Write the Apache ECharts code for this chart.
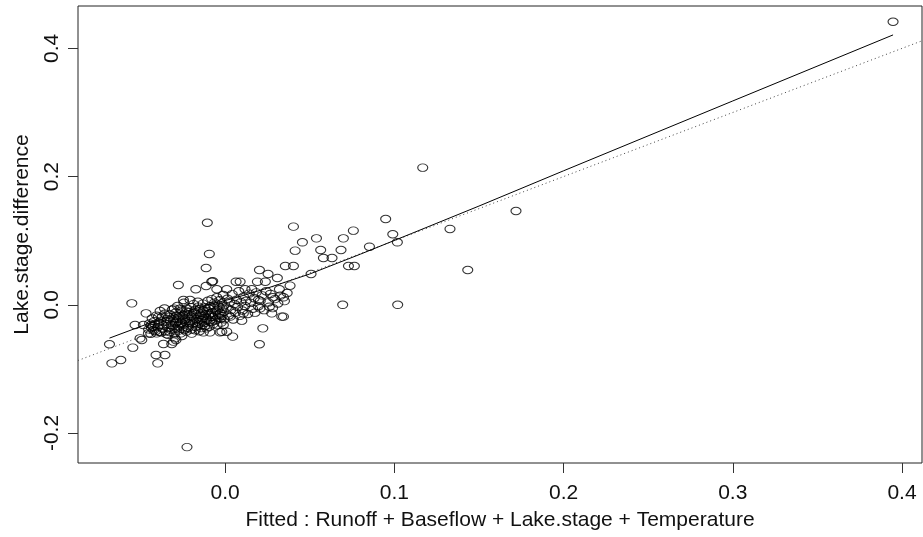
<!DOCTYPE html>
<html>
<head>
<meta charset="utf-8">
<title>Lake.stage.difference vs fitted</title>
<script src="https://cdn.jsdelivr.net/npm/echarts@6/dist/echarts.min.js"></script>
<style>
  html, body { margin: 0; padding: 0; background: #fff; }
  #chart { width: 923px; height: 537px; }
</style>
</head>
<body>
<div id="chart"></div>
<script>
const outliers = [
  [0.3947, 0.4415], [0.1168, 0.2139], [0.1719, 0.1463], [0.1329, 0.1183], [0.1434, 0.0543],
  [0.1020, 0.0000], [0.0695, 0.0000], [-0.0225, -0.2220]
];
const upperArm = [
  [0.0949, 0.1338], [0.0991, 0.1100], [0.1018, 0.0975], [0.0853, 0.0906], [0.0758, 0.1156],
  [0.0699, 0.1037], [0.0540, 0.1037], [0.0685, 0.0855], [0.0565, 0.0855], [0.0457, 0.0975],
  [0.0404, 0.1219], [0.0414, 0.0844], [0.0581, 0.0730], [0.0632, 0.0730], [0.0729, 0.0605],
  [0.0764, 0.0605], [0.0508, 0.0480], [0.0356, 0.0605], [0.0404, 0.0605], [0.0203, 0.0543],
  [0.0254, 0.0480], [0.0309, 0.0418], [0.0191, 0.0360], [0.0238, 0.0360], [0.0384, 0.0298],
  [0.0065, 0.0360], [0.0089, 0.0360], [-0.0073, 0.0367], [-0.0112, 0.0293], [-0.0173, 0.0242],
  [-0.0049, 0.0242], [0.0010, 0.0242], [0.0118, 0.0242], [0.0158, 0.0242], [0.0321, 0.0242],
  [-0.0105, 0.1280], [-0.0093, 0.0793], [-0.0112, 0.0574], [-0.0276, 0.0309], [-0.0246, 0.0075],
  [-0.0207, 0.0075], [-0.0079, 0.0360]
];
const middle = [
  [0.0345, 0.0117], [0.0282, 0.0117], [0.0197, 0.0075], [0.0262, -0.0030], [0.0207, -0.0055],
  [0.0335, -0.0185], [0.0345, -0.0185], [0.0276, -0.0133], [0.0177, -0.0123], [0.0108, -0.0133],
  [0.0030, -0.0185], [0.0099, -0.0248], [-0.0010, -0.0315], [0.0223, -0.0367], [0.0045, -0.0497],
  [0.0203, -0.0616], [-0.0030, -0.0430], [-0.0089, -0.0430], [-0.0128, -0.0430], [0.0010, -0.0420],
  [0.0008, -0.0041], [0.0014, 0.0094], [0.0021, -0.0167], [0.0027, 0.0043], [0.0034, -0.0082],
  [0.0042, 0.0167], [0.0048, -0.0229], [0.0055, 0.0012], [0.0061, -0.0121], [0.0068, 0.0079],
  [0.0074, -0.0034], [0.0081, 0.0211], [0.0087, -0.0172], [0.0094, 0.0041], [0.0102, -0.0089],
  [0.0109, 0.0128], [0.0117, -0.0018], [0.0125, 0.0063], [0.0134, -0.0143], [0.0142, 0.0174],
  [0.0151, 0.0029], [0.0163, -0.0061], [0.0172, 0.0102], [0.0184, 0.0193], [0.0196, -0.0022],
  [0.0208, 0.0061], [0.0219, 0.0147], [0.0231, -0.0084], [0.0243, 0.0212], [0.0256, 0.0037],
  [0.0268, 0.0169], [0.0281, -0.0051], [0.0294, 0.0089], [0.0312, 0.0021], [0.0327, 0.0143],
  [0.0351, 0.0058], [0.0367, 0.0184]
];
const lowerLeft = [
  [-0.0683, -0.0616], [-0.0669, -0.0913], [-0.0616, -0.0861], [-0.0551, 0.0023], [-0.0467, -0.0133],
  [-0.0532, -0.0315], [-0.0483, -0.0315], [-0.0437, -0.0315], [-0.0394, -0.0185], [-0.0502, -0.0523],
  [-0.0545, -0.0669], [-0.0408, -0.0783], [-0.0355, -0.0783], [-0.0398, -0.0913], [-0.0364, -0.0612],
  [-0.0315, -0.0612], [-0.0290, -0.0550], [-0.0388, -0.0420], [-0.0453, -0.0445], [-0.0404, -0.0445],
  [-0.0492, -0.0549], [-0.0305, -0.0575], [-0.0295, -0.0523], [-0.0019, -0.0420]
];
const core = [
  [-0.0452, -0.0383], [-0.0446, -0.0291], [-0.0439, -0.0452], [-0.0431, -0.0214], [-0.0426, -0.0338],
  [-0.0418, -0.0256], [-0.0412, -0.0412], [-0.0405, -0.0168], [-0.0397, -0.0349], [-0.0391, -0.0274],
  [-0.0384, -0.0097], [-0.0377, -0.0431], [-0.0371, -0.0187], [-0.0364, -0.0319], [-0.0358, -0.0058],
  [-0.0352, -0.0412], [-0.0348, -0.0301], [-0.0341, -0.0221], [-0.0337, -0.0468], [-0.0331, -0.0356],
  [-0.0325, -0.0152], [-0.0322, -0.0262], [-0.0318, -0.0391], [-0.0312, -0.0078], [-0.0309, -0.0329],
  [-0.0303, -0.0205], [-0.0299, -0.0447], [-0.0294, -0.0284], [-0.0291, -0.0121], [-0.0286, -0.0369],
  [-0.0281, -0.0019], [-0.0277, -0.0243], [-0.0273, -0.0402], [-0.0268, -0.0172], [-0.0264, -0.0308],
  [-0.0259, -0.0093], [-0.0255, -0.0486], [-0.0251, -0.0226], [-0.0247, -0.0351], [-0.0243, 0.0032],
  [-0.0239, -0.0139], [-0.0234, -0.0272], [-0.0229, -0.0418], [-0.0226, -0.0058], [-0.0221, -0.0196],
  [-0.0217, -0.0329], [-0.0213, -0.0112], [-0.0208, -0.0251], [-0.0204, -0.0037], [-0.0199, -0.0385],
  [-0.0195, -0.0164], [-0.0191, -0.0297], [-0.0186, 0.0011], [-0.0182, -0.0213], [-0.0178, -0.0081],
  [-0.0173, -0.0344], [-0.0169, -0.0148], [-0.0165, -0.0262], [-0.0161, 0.0047], [-0.0156, -0.0189],
  [-0.0152, -0.0413], [-0.0148, -0.0064], [-0.0143, -0.0238], [-0.0139, -0.0121], [-0.0135, -0.0316],
  [-0.0131, 0.0018], [-0.0126, -0.0175], [-0.0122, -0.0283], [-0.0118, -0.0042], [-0.0113, -0.0207],
  [-0.0109, -0.0367], [-0.0105, -0.0098], [-0.0101, 0.0063], [-0.0096, -0.0154], [-0.0092, -0.0259],
  [-0.0088, -0.0023], [-0.0083, -0.0186], [-0.0079, 0.0089], [-0.0075, -0.0121], [-0.0071, -0.0302],
  [-0.0066, -0.0052], [-0.0062, 0.0034], [-0.0058, -0.0167], [-0.0053, -0.0231], [-0.0049, 0.0118],
  [-0.0045, -0.0084], [-0.0041, -0.0012], [-0.0036, -0.0196], [-0.0032, 0.0071], [-0.0028, -0.0135],
  [-0.0023, -0.0277], [-0.0019, 0.0022], [-0.0015, -0.0061], [-0.0011, 0.0153], [-0.0006, -0.0108]
];
const coreDense = [
  [-0.0344, -0.0262], [-0.0333, -0.0189], [-0.0327, -0.0425], [-0.0319, -0.0311], [-0.0306, -0.0247],
  [-0.0297, -0.0376], [-0.0288, -0.0168], [-0.0279, -0.0331], [-0.0271, -0.0216], [-0.0262, -0.0445],
  [-0.0257, -0.0279], [-0.0249, -0.0162], [-0.0241, -0.0391], [-0.0236, -0.0231], [-0.0228, -0.0102],
  [-0.0219, -0.0362], [-0.0211, -0.0287], [-0.0202, -0.0183], [-0.0197, -0.0449], [-0.0189, -0.0247],
  [-0.0184, -0.0121], [-0.0176, -0.0398], [-0.0171, -0.0221], [-0.0163, -0.0329], [-0.0158, -0.0029],
  [-0.0151, -0.0276], [-0.0146, -0.0158], [-0.0141, -0.0364], [-0.0133, -0.0213], [-0.0128, -0.0089],
  [-0.0120, -0.0331], [-0.0116, -0.0148], [-0.0107, -0.0242], [-0.0099, -0.0051], [-0.0094, -0.0342],
  [-0.0086, -0.0129], [-0.0081, -0.0268], [-0.0073, -0.0191], [-0.0068, -0.0009], [-0.0060, -0.0247],
  [-0.0055, -0.0102], [-0.0047, -0.0318], [-0.0039, -0.0158], [-0.0034, -0.0041], [-0.0026, -0.0214],
  [-0.0017, -0.0173], [-0.0009, -0.0024], [-0.0004, -0.0226], [-0.0380, -0.0251], [-0.0368, -0.0372],
  [-0.0356, -0.0139], [-0.0346, -0.0457], [-0.0393, -0.0318], [-0.0415, -0.0301], [-0.0422, -0.0398],
  [-0.0435, -0.0362], [-0.0301, -0.0059], [-0.0284, -0.0264], [-0.0266, -0.0062], [-0.0248, -0.0301]
];

// lowess smooth (solid) through the points
const smoothX = [-0.0683, -0.045, -0.025, -0.010, 0.005, 0.025, 0.05, 0.08, 0.11, 0.15, 0.20, 0.30, 0.3947];
const smoothY = [-0.052, -0.029, -0.012, 0.000, 0.010, 0.026, 0.048, 0.079, 0.111, 0.154, 0.209, 0.318, 0.421];

const xTicks = [0, 0.1, 0.2, 0.3, 0.4];
const yTicks = [-0.2, 0, 0.2, 0.4];
const xRange = [-0.0869, 0.4118];
const yRange = [-0.2468, 0.4661];

const xName = 'Fitted : Runoff + Baseflow + Lake.stage + Temperature';
const yName = 'Lake.stage.difference';

const font = '"Liberation Sans", Arial, sans-serif';
const fontSize = 21;
const textColor = '#111';

const points = outliers.concat(upperArm, middle, lowerLeft, core, coreDense);
const smooth = smoothX.map((x, i) => [x, smoothY[i]]);
// y = x reference line across the plot
const refLine = [[xRange[0], xRange[0]], [xRange[1], xRange[1]]];

const chart = echarts.init(document.getElementById('chart'));
chart.setOption({
  animation: false,
  backgroundColor: '#fff',
  grid: {
    left: 78, right: 1, top: 6, bottom: 74,
    show: true, borderColor: '#222', borderWidth: 1, backgroundColor: 'transparent'
  },
  xAxis: {
    type: 'value',
    min: xRange[0], max: xRange[1],
    name: xName,
    nameLocation: 'middle',
    nameGap: 47,
    nameTextStyle: { fontFamily: font, fontSize: fontSize, color: textColor },
    axisLine: { show: false, onZero: false },
    splitLine: { show: false },
    axisTick: { show: true, length: 10, customValues: xTicks, lineStyle: { color: '#333' } },
    axisLabel: {
      customValues: xTicks, margin: 20,
      fontFamily: font, fontSize: fontSize, color: textColor,
      formatter: v => v.toFixed(1)
    }
  },
  yAxis: {
    type: 'value',
    min: yRange[0], max: yRange[1],
    name: yName,
    nameLocation: 'middle',
    nameGap: 45,
    nameTextStyle: { fontFamily: font, fontSize: fontSize, color: textColor },
    axisLine: { show: false, onZero: false },
    splitLine: { show: false },
    axisTick: { show: true, length: 10, customValues: yTicks, lineStyle: { color: '#333' } },
    axisLabel: {
      customValues: yTicks, margin: 15, rotate: 90,
      fontFamily: font, fontSize: fontSize, color: textColor,
      formatter: v => v.toFixed(1)
    }
  },
  series: [
    {
      type: 'line',
      data: refLine,
      showSymbol: false,
      silent: true,
      lineStyle: { color: '#444', width: 1, type: [1, 3] }
    },
    {
      type: 'line',
      data: smooth,
      showSymbol: false,
      silent: true,
      lineStyle: { color: '#000', width: 1 }
    },
    {
      type: 'scatter',
      data: points,
      symbol: 'circle',
      symbolSize: [10, 7.5],
      silent: true,
      itemStyle: { color: 'rgba(0,0,0,0)', borderColor: '#000', borderWidth: 1 }
    }
  ]
});
</script>
</body>
</html>
